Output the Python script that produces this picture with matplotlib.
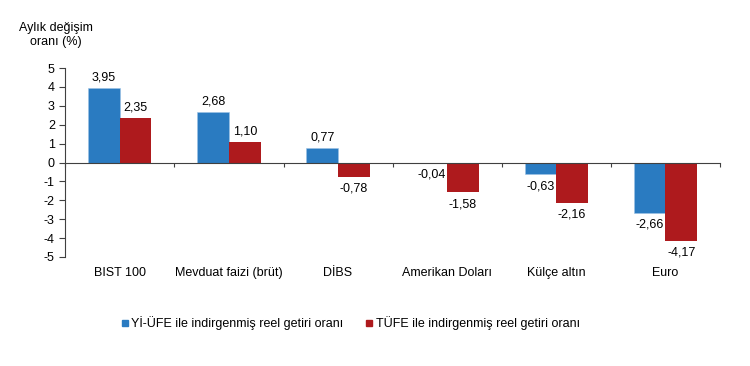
import numpy as np
import matplotlib.pyplot as plt
from matplotlib.lines import Line2D

plt.rcParams['font.family'] = ['Liberation Sans', 'DejaVu Sans']
plt.rcParams['axes.unicode_minus'] = False

categories = ['BIST 100', 'Mevduat faizi (brüt)', 'DİBS', 'Amerikan Doları', 'Külçe altın', 'Euro']
yi_ufe = [3.95, 2.68, 0.77, -0.04, -0.63, -2.66]
tufe = [2.35, 1.10, -0.78, -1.58, -2.16, -4.17]
series_names = ['Yİ-ÜFE ile indirgenmiş reel getiri oranı', 'TÜFE ile indirgenmiş reel getiri oranı']
colors = ['#2A7BC1', '#AE1A1D']

fig = plt.figure(figsize=(7.5, 3.66), dpi=100)
ax = fig.add_axes([0.087, 0.298, 0.873, 0.516])

x = np.arange(len(categories))
w = 0.29
ax.bar(x - w / 2, yi_ufe, w, color=colors[0], edgecolor='#9CC3E6', linewidth=0.4)
ax.bar(x + w / 2, tufe, w, color=colors[1])

def fmt(v):
    return f'{v:.2f}'.replace('.', ',')

for xs, vals in [(x - w / 2, yi_ufe), (x + w / 2, tufe)]:
    for xi, v in zip(xs, vals):
        if v >= 0:
            ax.text(xi, v + 0.25, fmt(v), ha='center', va='bottom', fontsize=9)
        else:
            ax.text(xi, v - 0.3, fmt(v), ha='center', va='top', fontsize=9)

ax.set_xlim(-0.5, len(categories) - 0.5)
ax.set_ylim(-5, 5)
ax.set_yticks(range(-5, 6))
ax.tick_params(axis='y', labelsize=9, length=4, width=0.8, color='#404040')

# x axis drawn at zero with short ticks between groups
ax.spines['bottom'].set_position(('data', 0))
ax.set_xticks(np.arange(-0.5, len(categories), 1.0))
ax.set_xticklabels([])
ax.tick_params(axis='x', length=3, width=0.8, direction='out', color='#404040')
for s in ['top', 'right']:
    ax.spines[s].set_visible(False)
ax.spines['left'].set_color('#404040')
ax.spines['bottom'].set_color('#404040')

for xi, c in zip(x, categories):
    ax.text(xi, -0.055, c, transform=ax.get_xaxis_transform(), ha='center', va='top', fontsize=9)

fig.text(0.075, 0.905, 'Aylık değişim\noranı (%)', ha='center', va='center', fontsize=9, linespacing=1.25)

handles = [Line2D([], [], marker='s', linestyle='none', color=c, markersize=4) for c in colors]
fig.legend(handles, series_names, loc='center', bbox_to_anchor=(0.467, 0.117), ncol=2,
           frameon=False, fontsize=9, handlelength=0.6, handletextpad=0.25, columnspacing=1.7)

fig.savefig('out.png', dpi=100)
